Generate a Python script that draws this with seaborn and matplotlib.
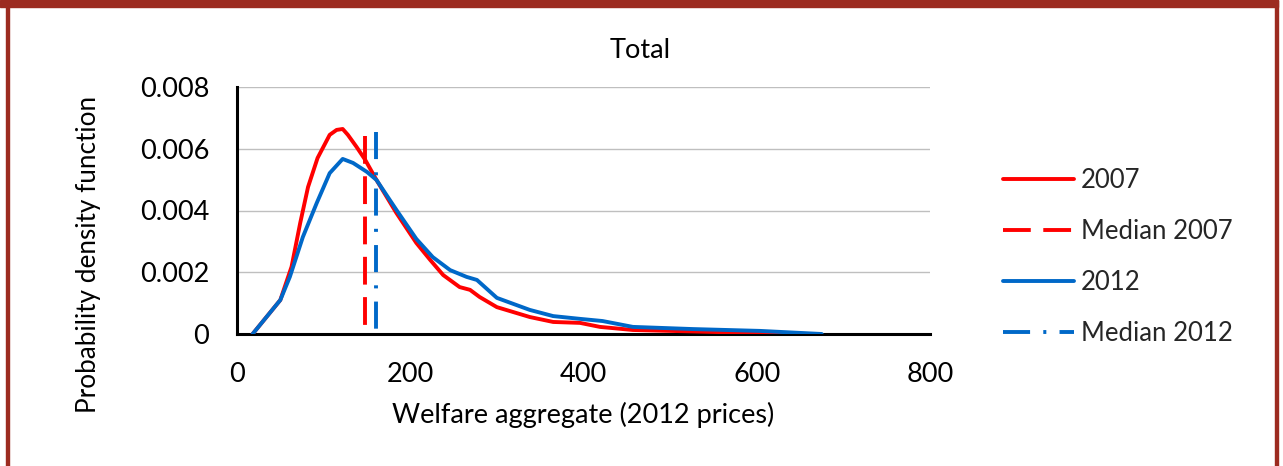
import matplotlib
matplotlib.use("Agg")
import matplotlib.pyplot as plt
import seaborn as sns
import numpy as np
import pandas as pd
from matplotlib.patches import Rectangle

# ---- data ----
x_2007 = [18, 50, 63, 73, 82, 93, 107, 115, 122, 128, 138, 148, 161, 184, 207, 223, 238,
          257, 269, 280, 300, 338, 365, 396, 419, 457, 604, 660]
y_2007 = [0.0, 0.00110, 0.00218, 0.00360, 0.00476, 0.00570, 0.00645, 0.00661, 0.00664,
          0.00645, 0.00606, 0.00564, 0.00499, 0.00392, 0.00295, 0.00240, 0.00191,
          0.00152, 0.00143, 0.00120, 0.00087, 0.00055, 0.00039, 0.00036, 0.00023,
          0.00013, 0.00003, 0.0]

x_2012 = [18, 50, 61, 76, 92, 107, 122, 134, 150, 161, 184, 207, 226, 246, 265, 277,
          300, 338, 365, 396, 422, 457, 526, 604, 675]
y_2012 = [0.0, 0.00110, 0.00185, 0.00314, 0.00424, 0.00521, 0.00567, 0.00554, 0.00525,
          0.00499, 0.00402, 0.00308, 0.00249, 0.00207, 0.00185, 0.00175, 0.00117,
          0.00078, 0.00058, 0.00049, 0.00042, 0.00023, 0.00016, 0.00010, 0.0]

median_2007 = 148
median_2007_top = 0.0064
median_2012 = 161
median_2012_top = 0.00655

x_ticks = [0, 200, 400, 600, 800]
y_ticks = [0, 0.002, 0.004, 0.006, 0.008]
y_tick_labels = ["0", "0.002", "0.004", "0.006", "0.008"]

title = "Total"
x_label = "Welfare aggregate (2012 prices)"
y_label = "Probability density function"
labels = ["2007", "Median 2007", "2012", "Median 2012"]

RED = "#FF0000"
BLUE = "#0068C8"
FRAME = "#9C2B20"
FS = 19.5

# ---- style ----
sns.set_theme(style="white")
plt.rcParams["font.family"] = ["Lato", "DejaVu Sans"]
plt.rcParams["lines.scale_dashes"] = False

fig = plt.figure(figsize=(12.83, 4.66), dpi=100)
ax = fig.add_axes([237 / 1283, 1 - 334 / 466, 693 / 1283, 247 / 466])

df07 = pd.DataFrame({"x": x_2007, "y": y_2007})
df12 = pd.DataFrame({"x": x_2012, "y": y_2012})

lw = 2.8
sns.lineplot(data=df07, x="x", y="y", color=RED, lw=lw, ax=ax, label=labels[0],
             solid_capstyle="round", zorder=3)
med07 = pd.DataFrame({"x": [median_2007, median_2007], "y": [median_2007_top, 0]})
sns.lineplot(data=med07, x="x", y="y", estimator=None, sort=False, color=RED, lw=lw,
             ax=ax, label=labels[1], dashes=False, zorder=4)
sns.lineplot(data=df12, x="x", y="y", color=BLUE, lw=lw, ax=ax, label=labels[2],
             solid_capstyle="round", zorder=5)
med12 = pd.DataFrame({"x": [median_2012, median_2012], "y": [median_2012_top, 0]})
sns.lineplot(data=med12, x="x", y="y", estimator=None, sort=False, color=BLUE, lw=lw,
             ax=ax, label=labels[3], dashes=False, zorder=6)

lines = ax.get_lines()
lines[1].set_dashes([20, 9])
lines[3].set_dashes([19.5, 9.5, 2.2, 9.5])

ax.set_xlim(0, 800)
ax.set_ylim(0, 0.008)
ax.set_xticks(x_ticks)
ax.set_xticklabels([str(v) for v in x_ticks])
ax.set_yticks(y_ticks)
ax.set_yticklabels(y_tick_labels)
ax.tick_params(axis="both", length=0, labelsize=FS, colors="black")
ax.tick_params(axis="x", pad=20)
ax.tick_params(axis="y", pad=20)

ax.grid(axis="y", color="#BFBFBF", lw=1.0)
ax.grid(axis="x", visible=False)
for s in ["top", "right"]:
    ax.spines[s].set_visible(False)
for s in ["left", "bottom"]:
    ax.spines[s].set_color("black")
    ax.spines[s].set_linewidth(2.2)

fig.text(640 / 1283, 1 - 50 / 466, title, fontsize=FS, ha="center", va="center",
         color="black")
ax.set_xlabel(x_label, fontsize=FS, labelpad=11, color="black")
ax.set_ylabel(y_label, fontsize=18.8, color="black")
ax.yaxis.label.set_verticalalignment("center")
ax.yaxis.set_label_coords((88 - 237) / 693, (334 - 254) / 247)

handles, lbls = ax.get_legend_handles_labels()
ax.legend(handles, lbls, loc="center left", bbox_to_anchor=(1003 / 1283, 1 - 257 / 466),
          bbox_transform=fig.transFigure, frameon=False, fontsize=18.5, handlelength=2.75,
          handletextpad=0.28, labelspacing=1.0, borderpad=0, borderaxespad=0)

# ---- decorative frame ----
fig.patches.append(Rectangle((0, 1 - 7 / 466), 1278 / 1283, 7 / 466,
                             transform=fig.transFigure, color=FRAME, zorder=10))
fig.patches.append(Rectangle((6 / 1283, 0), 3 / 1283, 1,
                             transform=fig.transFigure, color=FRAME, zorder=10))
fig.patches.append(Rectangle((1275 / 1283, 0), 3 / 1283, 1,
                             transform=fig.transFigure, color=FRAME, zorder=10))

fig.savefig("out.png", dpi=100, facecolor="white")
